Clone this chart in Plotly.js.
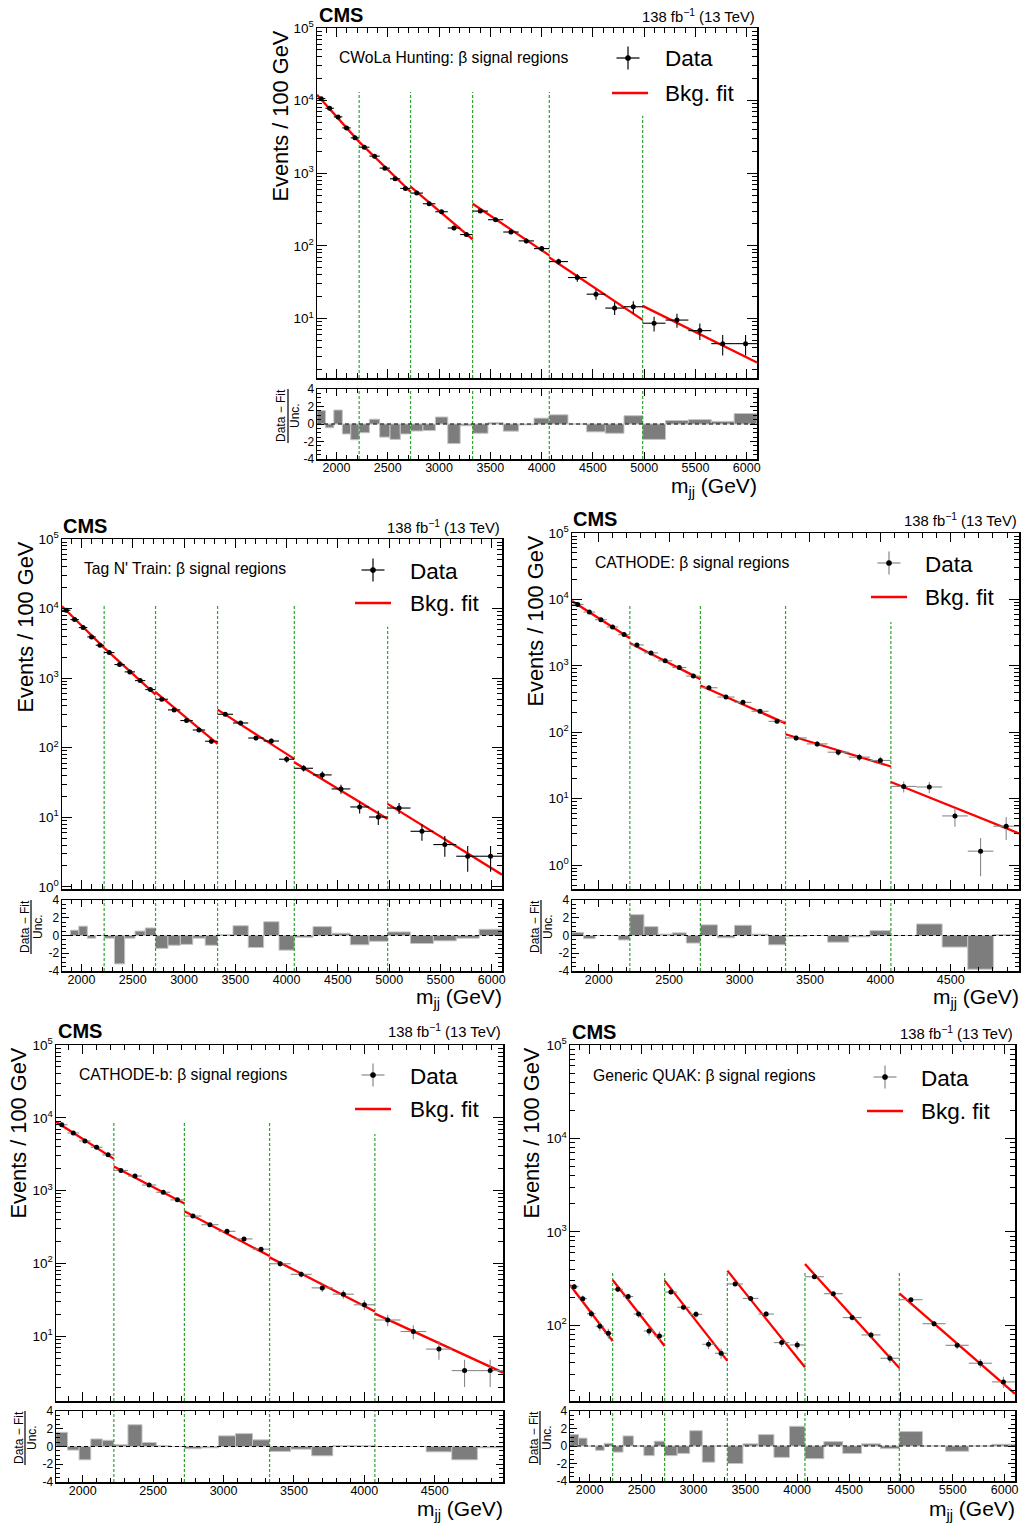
<!DOCTYPE html>
<html><head><meta charset="utf-8">
<script src="https://cdn.plot.ly/plotly-3.0.1.min.js"></script>
<style>html,body{margin:0;padding:0;background:#fff}#chart{width:1023px;height:1524px}</style>
</head><body><div id="chart"></div>
<script>
// ---------------- data ----------------
const binEdges = [1810,1892,1974,2057,2139,2221,2321,2421,2522,2622,2722,2843,2964,3085,3206,3327,3477,3626,3776,3926,4075,4257,4439,4621,4803,4985,5208,5431,5654,5877,6100];
const srEdges = [1810,2221,2722,3327,4075,4985,6100];

const cwolaCounts = [10650,7850,5970,4210,3070,2285,1720,1175,838,618,533,380,295,176,143,301,229,155,117,91.6,60.7,36.6,21.6,13.9,14.5,8.6,9.5,6.8,4.5,4.5];
const cwolaPulls = [1.53,-0.43,1.6,-1.14,-1.8,-1.0,0.55,-1.5,-1.76,-1.14,-0.8,-0.75,0.8,-2.24,-0.2,-1.06,0.15,-0.82,-0.1,0.67,1.05,0.0,-0.9,-1.06,0.95,-1.76,0.4,0.5,0.3,1.2];
const cwolaFitStart = [12000,2704,652,380,69,14.9];
const cwolaFitEnd = [2704,556,123,74,9.57,2.48];

const tntCounts = [9460,6950,5340,3920,2974,2334,1568,1231,923,685,498,350,246,180,124,303,227,138,125,68.4,50.7,40.7,25.6,14.1,10.1,13.6,6.3,4.06,2.76,2.76];
const tntPulls = [0.0,0.6,1.05,-0.3,0.0,-0.3,-3.2,-0.3,0.5,0.85,-1.45,-1.1,-1.0,-0.3,-1.1,0.1,1.1,-1.35,1.55,-1.65,-0.2,1.0,0.25,-1.05,-0.65,0.4,-0.9,-0.6,-0.3,0.7];
const tntFitStart = [10810,2723,628,353,61.9,15.6];
const tntFitEnd = [2723,581,113.5,69.2,9.48,1.50];

const cathodeCounts = [8414,6457,4955,3846,2951,2065,1567,1189,944,700,468,339,282,207,146,82.2,66.8,50.1,42.2,37.6,15.3,15.0,5.5,1.62,3.85];
const cathodePulls = [0.35,-0.35,0.0,0.0,-0.5,2.35,1.0,0.15,0.3,-0.85,1.2,-0.25,1.15,0.15,-1.05,-0.1,0.0,-0.75,-0.15,0.55,0.0,1.3,-1.3,-3.8,0.1];
const cathodeFitStart = [9440,2213,507,93.3,17.8];
const cathodeFitEnd = [2600,631,136,30.5,2.99];

const cathodeBCounts = [8030,6180,4806,3940,3097,1893,1585,1194,949,746,447,340,276,217,157,98.9,70.8,46.1,37.8,27.0,16.7,11.6,6.65,3.37,3.37];
const cathodeBPulls = [1.6,-0.4,-1.5,0.85,0.7,0.2,2.45,0.45,0.1,0.0,-0.25,-0.15,1.2,1.45,0.75,-0.55,-0.3,-1.05,0.1,0.1,0.0,0.0,-0.6,-1.5,-0.15];
const cathodeBFitStart = [8810,2148,522,121,20.4];
const cathodeBFitEnd = [2729,665,126,21.9,3.16];

const quakCounts = [259,193,133,97.6,82.1,243,203,132,87,76.9,227,156,131,62.7,50.2,277,194,132,65.3,61.6,331,218,121,78.9,44.4,188,104,61.1,39.3,24.8];
const quakPulls = [1.3,0.9,0.0,-0.5,0.3,-0.7,1.15,0.0,-1.1,0.55,-1.1,-0.85,1.75,-1.85,0.0,-2.0,0.25,1.3,-1.3,2.25,-1.45,0.5,-0.85,0.25,-0.3,1.65,0.0,-0.6,0.0,0.2];
const quakFitStart = [270,305,301,385,453,220];
const quakFitEnd = [67.9,60.1,41.6,35.6,35.0,18.5];

const panelTitles = ['CWoLa Hunting: β signal regions','Tag N\' Train: β signal regions','CATHODE: β signal regions','CATHODE-b: β signal regions','Generic QUAK: β signal regions'];
const logTickVals = [1,10,100,1000,10000,100000];
const logTickText = ['10<sup>0</sup>','10<sup>1</sup>','10<sup>2</sup>','10<sup>3</sup>','10<sup>4</sup>','10<sup>5</sup>'];
const ratioTickVals = [-4,-2,0,2,4];
const ratioTickText = ['-4','-2','0','2','4'];

// ---------------- layout config ----------------
const W = 1023, H = 1524;
const px = x => x / W, py = y => 1 - y / H;
const FONT = '"Liberation Sans", Arial, Helvetica, sans-serif';
const GREEN = '#2fa52f';

// minor tick positions on the log axes (2..9 x each decade)
const logMinor = [];
[0.1,1,10,100,1000,10000].forEach(d => { for (let m = 2; m <= 9; m++) logMinor.push(m * d); });

const panels = [
  {counts:cwolaCounts, pulls:cwolaPulls, fs:cwolaFitStart, fe:cwolaFitEnd,
   box:{l:317,r:757,t:28,b:378,rt:389,rb:459}, xr:[1810,6100], yr:[0.18,5], srTop:[0.817,0.817,0.817,0.817,0.749], err:'#000',
   cms:[318,15], lumi:[757,16], lab:[339,57], leg:{dx:628,dy:58,fy:93,fx0:612,fx1:648,tx:665}, yt:[280,29], rt:{x:281,bar:288,unc:294,y:416}, xt:[757,487]},
  {counts:tntCounts, pulls:tntPulls, fs:tntFitStart, fe:tntFitEnd,
   box:{l:62,r:502,t:539,b:889,rt:900,rb:971}, xr:[1810,6100], yr:[-0.03,5], srTop:[0.814,0.814,0.814,0.814,0.749], err:'#000',
   cms:[62,526], lumi:[502,527], lab:[84,569], leg:{dx:373,dy:570,fy:603,fx0:355,fx1:391,tx:410}, yt:[25,540], rt:{x:25,bar:31,unc:37,y:927}, xt:[502,998]},
  {counts:cathodeCounts, pulls:cathodePulls, fs:cathodeFitStart, fe:cathodeFitEnd,
   box:{l:572,r:1019,t:533,b:889,rt:900,rb:971}, xr:[1810,4985], yr:[-0.36,5], srTop:[0.80,0.80,0.80,0.75], err:'#888',
   cms:[572,519], lumi:[1019,520], lab:[595,562], leg:{dx:889,dy:563,fy:597,fx0:871,fx1:907,tx:925}, yt:[535,534], rt:{x:535,bar:541,unc:547,y:927}, xt:[1019,998]},
  {counts:cathodeBCounts, pulls:cathodeBPulls, fs:cathodeBFitStart, fe:cathodeBFitEnd,
   box:{l:56,r:503,t:1045,b:1401,rt:1411,rb:1482}, xr:[1810,4985], yr:[0.11,5], srTop:[0.781,0.781,0.781,0.75], err:'#888',
   cms:[57,1031], lumi:[503,1031], lab:[79,1074], leg:{dx:373,dy:1075,fy:1109,fx0:355,fx1:391,tx:410}, yt:[18,1046], rt:{x:19,bar:25,unc:31,y:1438}, xt:[503,1510]},
  {counts:quakCounts, pulls:quakPulls, fs:quakFitStart, fe:quakFitEnd,
   box:{l:570,r:1015,t:1045,b:1401,rt:1411,rb:1481}, xr:[1810,6100], yr:[1.19,5], srTop:[0.362,0.362,0.362,0.362,0.362], err:'#888',
   cms:[571,1032], lumi:[1015,1033], lab:[593,1075], leg:{dx:885,dy:1077,fy:1111,fx0:867,fx1:903,tx:921}, yt:[531,1046], rt:{x:534,bar:540,unc:546,y:1438}, xt:[1015,1510]}
];

const data = [], shapes = [], annotations = [];
const layout = {width:W, height:H, margin:{l:0,r:0,t:0,b:0}, paper_bgcolor:'#fff', plot_bgcolor:'#fff',
  showlegend:false, bargap:0, font:{family:FONT, color:'#000'}, shapes, annotations};

panels.forEach((p, i) => {
  const mi = 2*i + 1, ri = 2*i + 2;
  const xm = mi === 1 ? 'x' : 'x' + mi, ym = mi === 1 ? 'y' : 'y' + mi;
  const xrA = 'x' + ri, yrA = 'y' + ri;
  const b = p.box;
  const n = p.counts.length;
  const lo = binEdges.slice(0, n), hi = binEdges.slice(1, n + 1);
  const centers = lo.map((e, k) => (e + hi[k]) / 2);
  const widths = lo.map((e, k) => hi[k] - e);
  const halfW = widths.map(w => w / 2);
  const errs = p.counts.map((c, k) => { const s = widths[k] / 100; return Math.sqrt(c * s) / s; });

  data.push({type:'bar', name:'(Data − Fit) / Unc.', x:centers, y:p.pulls, width:widths, xaxis:xrA, yaxis:yrA,
    marker:{color:'#7d7d7d', line:{color:'#c4c4c4', width:1}}});
  const fitX = [], fitY = [];
  p.fs.forEach((v, k) => { fitX.push(srEdges[k], srEdges[k+1], null); fitY.push(v, p.fe[k], null); });
  data.push({type:'scatter', mode:'lines', name:'Bkg. fit', x:fitX, y:fitY, xaxis:xm, yaxis:ym,
    line:{color:'#ff0000', width:2.3}, connectgaps:false});
  data.push({type:'scatter', mode:'markers', name:'Data', x:centers, y:p.counts, xaxis:xm, yaxis:ym,
    marker:{color:'#000', size:5},
    error_x:{type:'data', array:halfW, color:p.err, thickness:1.1, width:0},
    error_y:{type:'data', array:errs, color:p.err, thickness:1.1, width:0}});

  const axBase = {showline:true, linecolor:'#000', linewidth:1.5, mirror:'allticks', ticks:'inside', tickcolor:'#000',
    showgrid:false, zeroline:false, tickfont:{family:FONT, size:12.5, color:'#000'}};
  layout['xaxis' + (mi === 1 ? '' : mi)] = Object.assign({}, axBase, {domain:[px(b.l), px(b.r)], range:p.xr, anchor:ym,
    tick0:0, dtick:500, ticklen:9, showticklabels:false, minor:{ticks:'inside', dtick:100, tick0:0, ticklen:5, tickcolor:'#000'}});
  layout['yaxis' + (mi === 1 ? '' : mi)] = Object.assign({}, axBase, {domain:[py(b.b), py(b.t)], type:'log', range:p.yr, anchor:xm,
    tickmode:'array', tickvals:logTickVals, ticktext:logTickText, ticklen:10, ticklabelstandoff:-1,
    tickfont:{family:FONT, size:13.5, color:'#000'},
    minor:{ticks:'inside', ticklen:5, tickcolor:'#000', tickmode:'array', tickvals:logMinor}});
  layout['xaxis' + ri] = Object.assign({}, axBase, {domain:[px(b.l), px(b.r)], range:p.xr, anchor:yrA,
    tick0:0, dtick:500, ticklen:7, ticklabelstandoff:-4, minor:{ticks:'inside', dtick:100, tick0:0, ticklen:4, tickcolor:'#000'}});
  layout['yaxis' + ri] = Object.assign({}, axBase, {domain:[py(b.rb), py(b.rt)], range:[-4,4], anchor:xrA,
    tickmode:'array', tickvals:ratioTickVals, ticktext:ratioTickText, ticklen:7, ticklabelstandoff:-1,
    tickfont:{family:FONT, size:12, color:'#000'},
    minor:{ticks:'inside', dtick:0.5, tick0:0, ticklen:4, tickcolor:'#000'}});

  // signal region boundaries
  p.srTop.forEach((top, k) => {
    const e = srEdges[k + 1];
    shapes.push({type:'line', xref:xm, yref:ym + ' domain', x0:e, x1:e, y0:0, y1:top, layer:'below',
      line:{color:GREEN, width:1.2, dash:'3px,2px'}});
    shapes.push({type:'line', xref:xrA, yref:yrA + ' domain', x0:e, x1:e, y0:0, y1:1, layer:'above',
      line:{color:GREEN, width:1.2, dash:'3px,2px'}});
  });
  shapes.push({type:'line', xref:xrA + ' domain', yref:yrA, x0:0, x1:1, y0:0, y1:0, layer:'above',
    line:{color:'#000', width:1, dash:'4px,3px'}});

  // legend (drawn like the ROOT legend)
  const L = p.leg;
  shapes.push({type:'line', xref:'paper', yref:'paper', x0:px(L.dx - 11.5), x1:px(L.dx + 11.5), y0:py(L.dy), y1:py(L.dy), line:{color:p.err, width:1.2}});
  shapes.push({type:'line', xref:'paper', yref:'paper', x0:px(L.dx), x1:px(L.dx), y0:py(L.dy - 11.5), y1:py(L.dy + 11.5), line:{color:p.err, width:1.2}});
  shapes.push({type:'circle', xref:'paper', yref:'paper', x0:px(L.dx - 2.6), x1:px(L.dx + 2.6), y0:py(L.dy + 2.6), y1:py(L.dy - 2.6), fillcolor:'#000', line:{color:'#000', width:0.5}});
  shapes.push({type:'line', xref:'paper', yref:'paper', x0:px(L.fx0), x1:px(L.fx1), y0:py(L.fy), y1:py(L.fy), line:{color:'#ff0000', width:2.3}});
  annotations.push({xref:'paper', yref:'paper', x:px(L.tx - 2), y:py(L.dy + 1), xanchor:'left', yanchor:'middle', showarrow:false, text:'Data', font:{family:FONT, size:22.5, color:'#000'}});
  annotations.push({xref:'paper', yref:'paper', x:px(L.tx - 2), y:py(L.fy), xanchor:'left', yanchor:'middle', showarrow:false, text:'Bkg. fit', font:{family:FONT, size:22.5, color:'#000'}});

  // texts
  annotations.push({xref:'paper', yref:'paper', x:px(p.cms[0] - 1), y:py(p.cms[1]), xanchor:'left', yanchor:'middle', showarrow:false, text:'<b>CMS</b>', font:{family:FONT, size:20, color:'#000'}});
  annotations.push({xref:'paper', yref:'paper', x:px(p.lumi[0]), y:py(p.lumi[1]), xanchor:'right', yanchor:'middle', showarrow:false, text:'138 fb<sup>−1</sup> (13 TeV)', font:{family:FONT, size:14.8, color:'#000'}});
  annotations.push({xref:'paper', yref:'paper', x:px(p.lab[0] - 2), y:py(p.lab[1]), xanchor:'left', yanchor:'middle', showarrow:false, text:panelTitles[i], font:{family:FONT, size:15.7, color:'#000'}});
  annotations.push({xref:'paper', yref:'paper', x:px(p.yt[0]), y:py(p.yt[1]), xanchor:'center', yanchor:'top', textangle:-90, showarrow:false, text:'Events / 100 GeV', font:{family:FONT, size:21.8, color:'#000'}});
  annotations.push({xref:'paper', yref:'paper', x:px(p.xt[0] + 2), y:py(p.xt[1]), xanchor:'right', yanchor:'middle', showarrow:false, text:'m<sub>jj</sub> (GeV)', font:{family:FONT, size:21, color:'#000'}});
  annotations.push({xref:'paper', yref:'paper', x:px(p.rt.x), y:py(p.rt.y), xanchor:'center', yanchor:'middle', textangle:-90, showarrow:false, text:'Data − Fit', font:{family:FONT, size:12, color:'#000'}});
  annotations.push({xref:'paper', yref:'paper', x:px(p.rt.unc + 1), y:py(p.rt.y), xanchor:'center', yanchor:'middle', textangle:-90, showarrow:false, text:'Unc.', font:{family:FONT, size:12, color:'#000'}});
  shapes.push({type:'line', xref:'paper', yref:'paper', x0:px(p.rt.bar), x1:px(p.rt.bar), y0:py(p.rt.y - 27), y1:py(p.rt.y + 27), line:{color:'#000', width:1.2}});
});

Plotly.newPlot('chart', data, layout, {displayModeBar:false, staticPlot:true});
</script>
</body></html>
